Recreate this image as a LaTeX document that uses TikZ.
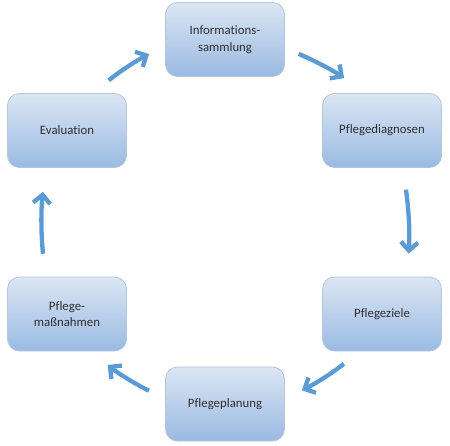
\documentclass[tikz,border=0pt]{standalone}
\usepackage{fontspec}
\setmainfont{Carlito}[Ligatures=NoCommon]
\usetikzlibrary{arrows.meta}
\definecolor{boxtop}{HTML}{DBE6F4}
\definecolor{boxbot}{HTML}{9ABAE2}
\definecolor{boxline}{HTML}{B4C6DC}
\definecolor{arrowblue}{HTML}{5B9BD5}
\definecolor{textgray}{HTML}{2E2E2E}
\tikzset{
  phase/.style={rectangle, rounded corners=12pt, draw=boxline, line width=0.8pt,
    top color=boxtop, bottom color=boxbot, minimum width=119pt, minimum height=74pt,
    align=center, text=textgray, font=\fontsize{12.8}{16.5}\selectfont},
  turn/.style={draw=arrowblue, line width=4.3pt, -{Straight Barb[length=8.5pt,width=17pt]}, bend left=6},
}

\begin{document}
\begin{tikzpicture}[x=1pt,y=1pt]
    \useasboundingbox (0,0) rectangle (450,445);
    % the six steps, clockwise from the top
    \node[phase] (info)    at (225,405.5) {Informations-\\sammlung};
    \node[phase] (diag)    at (382,314.5) {Pflegediagnosen};
    \node[phase] (ziele)   at (382,131)   {Pflegeziele};
    \node[phase] (planung) at (225,41)    {Pflegeplanung};
    \node[phase] (massn)   at (67,131)    {Pflege-\\maßnahmen};
    \node[phase] (eval)    at (67,314.5)  {Evaluation};

    % arrows between the steps
    \draw[turn, shorten <=15pt, shorten >=26pt] (info.-8)     to (diag.114);
    \draw[turn, shorten <=22pt, shorten >=23pt] (diag.-61)    to (ziele.56);
    \draw[turn, shorten <=20pt, shorten >=19pt] (ziele.239)   to (planung.5);
    \draw[turn, shorten <=18pt, shorten >=22pt] (planung.175) to (massn.-58);
    \draw[turn, shorten <=23pt, shorten >=24pt] (massn.120)   to (eval.-120);
    \draw[turn, shorten <=20pt, shorten >=18pt] (eval.55)     to (info.186);
\end{tikzpicture}
\end{document}
